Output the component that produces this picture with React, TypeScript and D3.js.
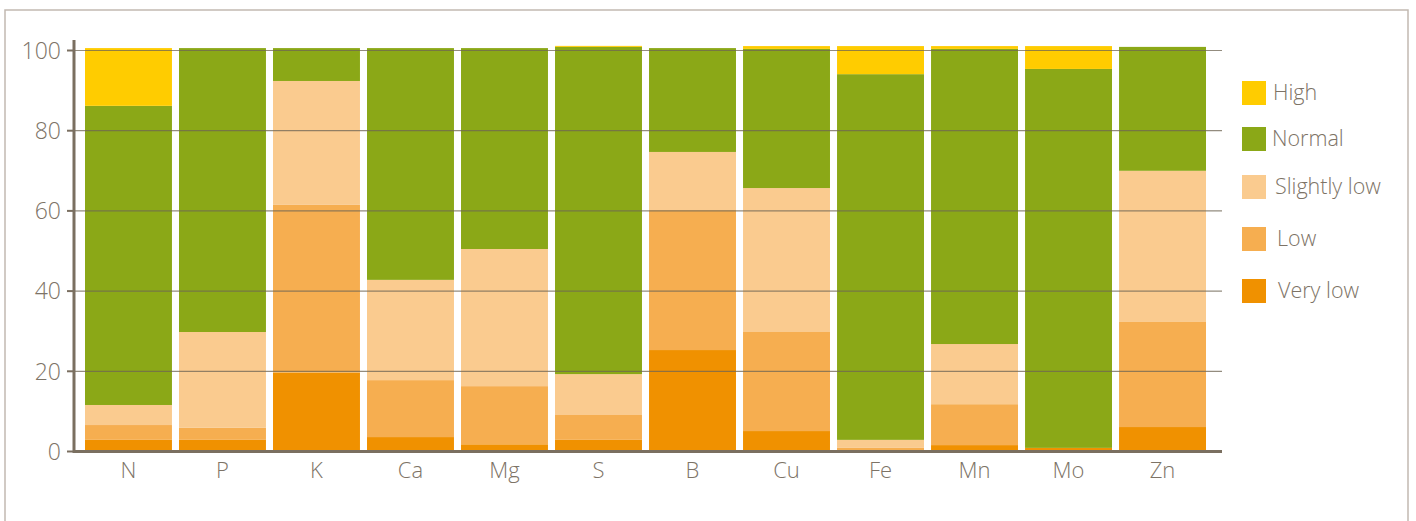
import React, { useEffect, useRef } from 'react';
import * as d3 from 'd3';

const nutrients = ['N', 'P', 'K', 'Ca', 'Mg', 'S', 'B', 'Cu', 'Fe', 'Mn', 'Mo', 'Zn'];
const levels = ['Very low', 'Low', 'Slightly low', 'Normal', 'High'];
const levelColors = ['#f09100', '#f6ae50', '#facb8f', '#8ba817', '#ffcc00'];

const veryLow = [2.9, 2.9, 19.7, 3.6, 1.8, 2.9, 25.3, 5.1, 0, 1.6, 0.9, 6.1];
const low = [3.7, 3.0, 41.8, 14.2, 14.5, 6.2, 34.9, 24.7, 0.9, 10.2, 0, 26.2];
const slightlyLow = [5.0, 23.9, 30.9, 25.0, 34.2, 10.2, 14.5, 35.9, 2.0, 15.0, 0, 37.7];
const normal = [74.6, 70.8, 8.2, 57.8, 50.1, 81.6, 25.9, 34.7, 91.2, 73.6, 94.5, 30.9];
const high = [14.4, 0, 0, 0, 0, 0.25, 0, 0.7, 7.0, 0.7, 5.7, 0];

const yTicks = [0, 20, 40, 60, 80, 100];

const App = () => {
  const ref = useRef<SVGSVGElement>(null);

  useEffect(() => {
    const svg = d3.select(ref.current);
    svg.selectAll('*').remove();

    const textColor = '#7d7366';
    const font = '"Open Sans", sans-serif';

    const rows = nutrients.map((n, i) => ({
      name: n,
      'Very low': veryLow[i],
      'Low': low[i],
      'Slightly low': slightlyLow[i],
      'Normal': normal[i],
      'High': high[i],
    }));

    const x = d3.scaleBand().domain(nutrients).range([74, 1217]).paddingInner(0.075).paddingOuter(0.117);
    const y = d3.scaleLinear().domain([0, 100]).range([451.5, 50.5]);
    const color = d3.scaleOrdinal<string, string>().domain(levels).range(levelColors);

    const series = d3.stack<any>().keys(levels)(rows);

    // outer frame
    svg.append('rect')
      .attr('x', 5).attr('y', 10).attr('width', 1403).attr('height', 530)
      .attr('fill', 'none').attr('stroke', '#c2b9b1').attr('stroke-width', 1.5);

    // bars
    svg.append('g')
      .selectAll('g')
      .data(series)
      .join('g')
        .attr('fill', d => color(d.key))
      .selectAll('rect')
      .data(d => d)
      .join('rect')
        .attr('x', d => x(d.data.name)!)
        .attr('y', d => y(d[1]))
        .attr('width', x.bandwidth())
        .attr('height', d => Math.max(0, y(d[0]) - y(d[1])));

    // gridlines sit over the bars
    svg.append('g')
      .selectAll('line')
      .data(yTicks.filter(t => t > 0))
      .join('line')
        .attr('x1', 74).attr('x2', 1222)
        .attr('y1', d => y(d)).attr('y2', d => y(d))
        .attr('stroke', '#6f6554').attr('stroke-opacity', 0.75).attr('stroke-width', 1.2);

    // y axis
    svg.append('line')
      .attr('x1', 74).attr('x2', 74).attr('y1', 40).attr('y2', 453)
      .attr('stroke', '#7a6f60').attr('stroke-width', 3);
    svg.append('g')
      .selectAll('line')
      .data(yTicks)
      .join('line')
        .attr('x1', 67).attr('x2', 74)
        .attr('y1', d => y(d)).attr('y2', d => y(d))
        .attr('stroke', '#7a6f60').attr('stroke-width', 2);
    svg.append('g')
      .selectAll('text')
      .data(yTicks)
      .join('text')
        .attr('x', 61)
        .attr('y', d => y(d))
        .attr('dy', '0.36em')
        .attr('text-anchor', 'end')
        .attr('fill', textColor)
        .style('font', `300 23px ${font}`)
        .text(d => d);

    // x axis
    svg.append('line')
      .attr('x1', 73).attr('x2', 1222).attr('y1', 451.5).attr('y2', 451.5)
      .attr('stroke', '#7a6f60').attr('stroke-width', 3);
    svg.append('g')
      .selectAll('text')
      .data(nutrients)
      .join('text')
        .attr('x', d => x(d)! + x.bandwidth() / 2)
        .attr('y', 478)
        .attr('text-anchor', 'middle')
        .attr('fill', textColor)
        .style('font', `300 22px ${font}`)
        .text(d => d);

    // legend, top entry first
    const legendY = [81, 127, 175, 227, 279];
    const legendDx = [31, 30, 33, 35, 36];
    const legend = svg.append('g')
      .selectAll('g')
      .data(levels.slice().reverse())
      .join('g')
        .attr('transform', (d, i) => `translate(1242,${legendY[i]})`);
    legend.append('rect')
      .attr('width', 24).attr('height', 24)
      .attr('fill', d => color(d));
    legend.append('text')
      .attr('x', (d, i) => legendDx[i]).attr('y', 11).attr('dy', '0.35em')
      .attr('fill', textColor)
      .style('font', `300 21.5px ${font}`)
      .text(d => d);
  }, []);

  return (
    <svg ref={ref} width={1416} height={521}
      style={{ position: 'absolute', left: 0, top: 0, background: '#fff' }} />
  );
};

export default App;
